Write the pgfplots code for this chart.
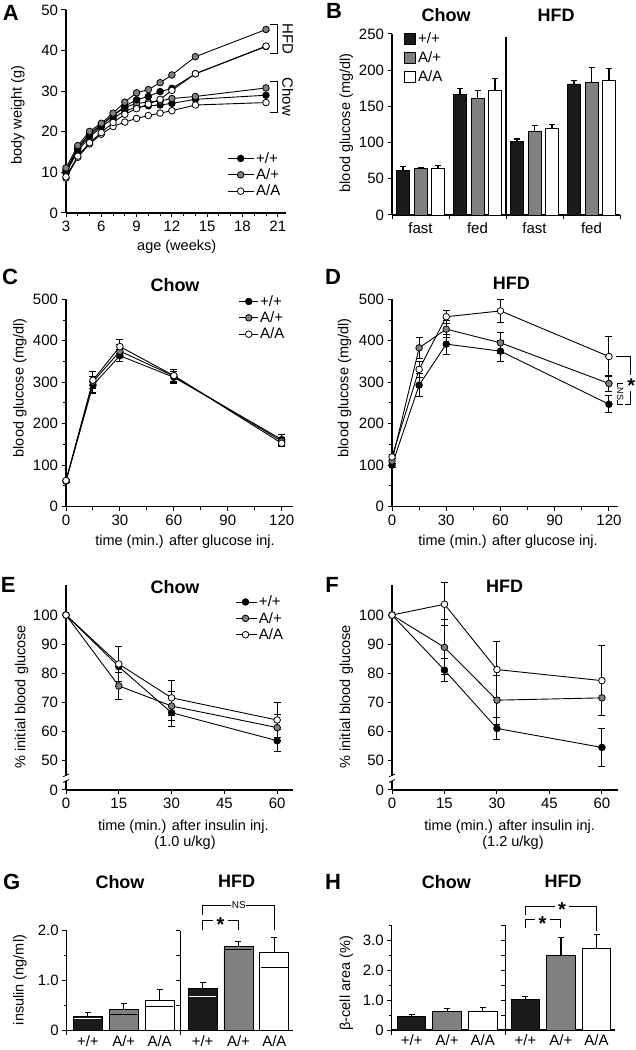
\documentclass[border=0pt]{standalone}
\usepackage{fontspec}
\setmainfont{Liberation Sans}
\usepackage{pgfplots}
\pgfplotsset{compat=1.18}
\definecolor{barblack}{HTML}{1A1A1A}
\definecolor{midgray}{HTML}{808080}
\newcommand{\tickfont}{\fontsize{15}{16}\selectfont}
\newcommand{\labfont}{\fontsize{14.5}{16}\selectfont}
\newcommand{\titfont}{\fontsize{18}{20}\selectfont\bfseries}
\newcommand{\letfont}{\fontsize{22}{24}\selectfont\bfseries}
\pgfplotsset{
 base/.style={
  scale only axis, anchor=south west, clip=false,
  axis x line=bottom, axis y line=left,
  axis line style={line width=1.1pt, -},
  tick align=outside, tick style={line width=1pt, black},
  major tick length=4.5pt, minor tick length=3pt,
  tick label style={font=\tickfont},
  /pgf/number format/assume math mode=true,
  enlargelimits=false,
 },
 ser/.style={line width=0.9pt, black, mark=*, mark size=3.3pt,
   mark options={line width=0.8pt, fill=#1, draw=black, solid}},
 errb/.style={/pgfplots/error bars/y dir=both, /pgfplots/error bars/y explicit,
   /pgfplots/error bars/error bar style={line width=1pt, black, solid},
   /pgfplots/error bars/error mark options={rotate=90, mark size=3.5pt, line width=1pt, black}},
 errp/.style={/pgfplots/error bars/y dir=plus, /pgfplots/error bars/y explicit,
   /pgfplots/error bars/error bar style={line width=1.1pt, black, solid},
   /pgfplots/error bars/error mark options={rotate=90, mark size=3pt, line width=1.1pt, black}},
 linelegend/.style={legend style={draw=none, fill=none, font=\tickfont, inner sep=0pt, row sep=0pt},
   legend cell align=left},
}
\begin{document}
\begin{tikzpicture}
\path[use as bounding box] (0pt,0pt) rectangle (636pt,1050pt);

% ---------------- A ----------------
\begin{axis}[base, at={(66pt,837pt)}, width=220pt, height=203pt,
  xmin=3, xmax=21.7, ymin=0, ymax=50,
  xtick={3,6,...,21}, minor xtick={4,5,7,8,10,11,13,14,16,17,19,20},
  ytick={0,10,...,50},
  linelegend, legend style={at={(0.732,0.31)}, anchor=north west},
  legend image code/.code={\draw[mark repeat=2,mark phase=2] plot coordinates {(0pt,0pt) (13pt,0pt) (26pt,0pt)};},
]
\addplot[ser=black] coordinates {(3,9.8)(4,15.3)(5,18.7)(6,21.2)(7,23.3)(8,25.2)(9,26.0)(10,26.4)(11,26.6)(12,27.0)(14,28.0)(20,29.0)};
\addlegendentry{+/+}
\addplot[ser=midgray] coordinates {(3,10.6)(4,16.0)(5,19.6)(6,21.8)(7,24.0)(8,26.0)(9,27.0)(10,27.3)(11,27.6)(12,28.2)(14,28.7)(20,30.8)};
\addlegendentry{A/+}
\addplot[ser=white] coordinates {(3,8.6)(4,13.7)(5,17.0)(6,19.4)(7,21.3)(8,22.4)(9,23.3)(10,24.0)(11,24.6)(12,25.2)(14,26.6)(20,27.2)};
\addlegendentry{A/A}
\addplot[ser=black, forget plot] coordinates {(3,10.2)(4,15.8)(5,19.2)(6,21.6)(7,24.0)(8,26.3)(9,27.9)(10,28.7)(11,29.9)(12,30.7)(14,34.3)(20,41.0)};
\addplot[ser=midgray, forget plot] coordinates {(3,11.1)(4,16.6)(5,20.1)(6,22.1)(7,24.6)(8,27.3)(9,29.6)(10,30.4)(11,32.1)(12,34.0)(14,38.5)(20,45.2)};
\addplot[ser=white, forget plot] coordinates {(3,8.9)(4,14.0)(5,17.3)(6,19.8)(7,22.3)(8,24.3)(9,25.7)(10,26.8)(11,28.0)(12,30.2)(14,34.3)(20,41.1)};
\draw[line width=1pt] (axis cs:20.38,46.5) -- (axis cs:20.97,46.5) -- (axis cs:20.97,39.2) -- (axis cs:20.38,39.2);
\draw[line width=1pt] (axis cs:20.38,32.5) -- (axis cs:20.97,32.5) -- (axis cs:20.97,24.8) -- (axis cs:20.38,24.8);
\node[rotate=-90, font=\tickfont] at (axis cs:21.85,42.9) {HFD};
\node[rotate=-90, font=\tickfont] at (axis cs:21.85,28.6) {Chow};
\end{axis}

% ---------------- B ----------------
\begin{axis}[base, at={(392pt,835pt)}, width=228pt, height=181pt,
  xmin=0, xmax=4, ymin=0, ymax=250,
  ytick={0,50,...,250}, xtick={0,1,2,3,4}, xticklabels={},
  extra x ticks={0.5,1.5,2.5,3.5}, extra x tick labels={fast,fed,fast,fed},
  extra x tick style={xtick style={draw=none}},
  legend style={draw=none, fill=none, font=\tickfont, inner sep=0pt, row sep=2.5pt, at={(0.053,1.02)}, anchor=north west},
  legend cell align=left,
  legend image code/.code={\draw[#1] (0pt,-5.5pt) rectangle (11pt,5.5pt);},
]
\addlegendimage{fill=barblack, draw=black, line width=0.8pt}
\addlegendentry{+/+}
\addlegendimage{fill=midgray, draw=black, line width=0.8pt}
\addlegendentry{A/+}
\addlegendimage{fill=white, draw=black, line width=0.8pt}
\addlegendentry{A/A}
\addplot[ybar, bar width=13pt, bar shift=0pt, fill=barblack, draw=black, line width=0.8pt, errp, forget plot]
 coordinates {(0.193,62) +- (0,5) (1.193,166) +- (0,9) (2.193,101) +- (0,4) (3.193,181) +- (0,5)};
\addplot[ybar, bar width=13pt, bar shift=0pt, fill=midgray, draw=black, line width=0.8pt, errp, forget plot]
 coordinates {(0.5,64.6) +- (0,1.6) (1.5,160.5) +- (0,11.5) (2.5,116) +- (0,7.6) (3.5,183) +- (0,21)};
\addplot[ybar, bar width=13pt, bar shift=0pt, fill=white, draw=black, line width=0.8pt, errp, forget plot]
 coordinates {(0.807,64) +- (0,4) (1.807,172.5) +- (0,16) (2.807,120) +- (0,5.5) (3.807,185.4) +- (0,17)};
\draw[line width=1.1pt] (axis cs:2,0) -- (axis cs:2,246);
\end{axis}

% ---------------- C ----------------
\begin{axis}[base, at={(66pt,543.3pt)}, width=227pt, height=207.4pt,
  xmin=0, xmax=126.3, ymin=0, ymax=500,
  xtick={0,30,...,120}, minor xtick={15,45,75,105},
  ytick={0,100,...,500}, minor ytick={50,150,...,450},
  linelegend, legend style={at={(0.758,1.03)}, anchor=north west},
  legend image code/.code={\draw[mark repeat=2,mark phase=2] plot coordinates {(0pt,0pt) (10pt,0pt) (19pt,0pt)};},
]
\addplot[ser=black, errb] coordinates {(0,62)+-(0,3) (15,293)+-(0,20) (30,364)+-(0,15) (60,312)+-(0,14) (120,162)+-(0,12)};
\addlegendentry{+/+}
\addplot[ser=midgray, errb] coordinates {(0,62)+-(0,3) (15,301)+-(0,25) (30,375)+-(0,15) (60,315)+-(0,15) (120,158)+-(0,10)};
\addlegendentry{A/+}
\addplot[ser=white, errb] coordinates {(0,63)+-(0,3) (15,305)+-(0,20) (30,386)+-(0,16) (60,316)+-(0,15) (120,153)+-(0,9)};
\addlegendentry{A/A}
\end{axis}

% ---------------- D ----------------
\begin{axis}[base, at={(392pt,543.3pt)}, width=226pt, height=207.4pt,
  xmin=0, xmax=125, ymin=0, ymax=500,
  xtick={0,30,...,120}, minor xtick={15,45,75,105},
  ytick={0,100,...,500}, minor ytick={50,150,...,450},
]
\addplot[ser=black, errb] coordinates {(0,100)+-(0,5) (15,293)+-(0,28) (30,392)+-(0,24) (60,375)+-(0,25) (120,247)+-(0,20)};
\addplot[ser=midgray, errb] coordinates {(0,110)+-(0,5) (15,383)+-(0,26) (30,428)+-(0,20) (60,395)+-(0,25) (120,297)+-(0,20)};
\addplot[ser=white, errb] coordinates {(0,120)+-(0,5) (15,331)+-(0,20) (30,458)+-(0,16) (60,472)+-(0,28) (120,362)+-(0,48)};
\draw[line width=1pt] (axis cs:124,362) -- (axis cs:132,362) -- (axis cs:132,318);
\draw[line width=1pt] (axis cs:132,278) -- (axis cs:132,247) -- (axis cs:128.8,247);
\node[font=\fontsize{20}{20}\selectfont\bfseries] at (axis cs:132.3,292) {*};
\draw[line width=1pt] (axis cs:128,297) -- (axis cs:124.6,297) -- (axis cs:124.6,288);
\draw[line width=1pt] (axis cs:124.6,257) -- (axis cs:124.6,247) -- (axis cs:128,247);
\node[rotate=-90, font=\fontsize{9}{9}\selectfont] at (axis cs:126.2,272) {NS};
\end{axis}

% ---------------- E ----------------
\begin{axis}[base, at={(66pt,260pt)}, width=227pt, height=205pt,
  xmin=0, xmax=64.5, ymin=40, ymax=110.3,
  xtick={0,15,...,60},
  ytick={40,50,...,100}, yticklabels={0,50,60,70,80,90,100},
  linelegend, legend style={at={(0.744,0.958)}, anchor=north west},
  legend image code/.code={\draw[mark repeat=2,mark phase=2] plot coordinates {(0pt,0pt) (10pt,0pt) (21pt,0pt)};},
]
\addplot[ser=black, errb] coordinates {(0,100)+-(0,0) (15,82.3)+-(0,6.8) (30,66.5)+-(0,4.8) (60,56.9)+-(0,3.8)};
\addlegendentry{+/+}
\addplot[ser=midgray, errb] coordinates {(0,100)+-(0,0) (15,75.7)+-(0,4.6) (30,68.8)+-(0,5) (60,61.4)+-(0,4.6)};
\addlegendentry{A/+}
\addplot[ser=white, errb] coordinates {(0,100)+-(0,0) (15,83.2)+-(0,6) (30,71.6)+-(0,6) (60,64)+-(0,6)};
\addlegendentry{A/A}
\fill[white] ([xshift=-3pt]axis cs:0,43.2) rectangle ([xshift=3pt]axis cs:0,44.9);
\draw[line width=0.8pt] ([xshift=-3pt]axis cs:0,42.6) -- ([xshift=3pt]axis cs:0,43.6);
\draw[line width=0.8pt] ([xshift=-3pt]axis cs:0,44.5) -- ([xshift=3pt]axis cs:0,45.5);
\end{axis}

% ---------------- F ----------------
\begin{axis}[base, at={(392pt,260pt)}, width=226pt, height=205pt,
  xmin=0, xmax=64.6, ymin=40, ymax=110.3,
  xtick={0,15,...,60},
  ytick={40,50,...,100}, yticklabels={0,50,60,70,80,90,100},
]
\addplot[ser=black, errb] coordinates {(0,100)+-(0,0) (15,81.1)+-(0,4) (30,61.1)+-(0,3.7) (60,54.6)+-(0,6.4)};
\addplot[ser=midgray, errb] coordinates {(0,100)+-(0,0) (15,88.9)+-(0,9.4) (30,70.8)+-(0,8.5) (60,71.6)+-(0,6)};
\addplot[ser=white, errb] coordinates {(0,100)+-(0,0) (15,103.7)+-(0,7.4) (30,81.3)+-(0,9.7) (60,77.5)+-(0,12)};
\fill[white] ([xshift=-3pt]axis cs:0,43.2) rectangle ([xshift=3pt]axis cs:0,44.9);
\draw[line width=0.8pt] ([xshift=-3pt]axis cs:0,42.6) -- ([xshift=3pt]axis cs:0,43.6);
\draw[line width=0.8pt] ([xshift=-3pt]axis cs:0,44.5) -- ([xshift=3pt]axis cs:0,45.5);
\end{axis}

% ---------------- G ----------------
\begin{axis}[base, at={(66.7pt,19.3pt)}, width=226.3pt, height=100pt,
  xmin=-0.59, xmax=5.72, ymin=0, ymax=2,
  ytick={0,1,2}, yticklabels={0,1.0,2.0}, minor ytick={0.5,1.5},
  xtick={0,1,2,3.2,4.2,5.2}, xticklabels={+/+,A/+,A/A,+/+,A/+,A/A},
  xtick style={draw=none}, xticklabel style={yshift=3pt},
]
\addplot[ybar, bar width=29pt, bar shift=0pt, fill=barblack, draw=black, line width=0.9pt, errp]
 coordinates {(0,0.29)+-(0,0.07) (3.2,0.85)+-(0,0.11)};
\addplot[ybar, bar width=29pt, bar shift=0pt, fill=midgray, draw=black, line width=0.9pt, errp]
 coordinates {(1,0.43)+-(0,0.12) (4.2,1.69)+-(0,0.09)};
\addplot[ybar, bar width=29pt, bar shift=0pt, fill=white, draw=black, line width=0.9pt, errp]
 coordinates {(2,0.61)+-(0,0.22) (5.2,1.57)+-(0,0.30)};
\addplot[only marks, mark=-, mark size=13.5pt, mark options={white, line width=1.3pt}]
 coordinates {(0,0.25) (3.2,0.68)};
\addplot[only marks, mark=-, mark size=13.5pt, mark options={black, line width=1.1pt}]
 coordinates {(1,0.33) (4.2,1.63) (2,0.49) (5.2,1.27)};
\draw[line width=1.1pt] (axis cs:2.58,0) ++(0pt,-4.5pt) -- (axis cs:2.58,2);
\draw[line width=1pt] (axis cs:2.58,0.5) -- ++(-4.5pt,0pt);
\draw[line width=1pt] (axis cs:2.58,1) -- ++(-4.5pt,0pt);
\draw[line width=1pt] (axis cs:2.58,1.5) -- ++(-4.5pt,0pt);
\draw[line width=1pt] (axis cs:2.58,2) -- ++(-4.5pt,0pt);
\draw[line width=1pt] (axis cs:-0.59,0) -- ++(0pt,-4.5pt);
\draw[line width=1pt] (axis cs:3.2,2.01) -- (axis cs:3.2,2.2) -- (axis cs:3.5,2.2);
\draw[line width=1pt] (axis cs:3.9,2.2) -- (axis cs:4.2,2.2) -- (axis cs:4.2,2.01);
\node[font=\fontsize{20}{20}\selectfont\bfseries] at ([yshift=-4pt]axis cs:3.7,2.2) {*};
\draw[line width=1pt] (axis cs:3.2,2.31) -- (axis cs:3.2,2.51) -- (axis cs:4.0,2.51);
\draw[line width=1pt] (axis cs:4.42,2.51) -- (axis cs:5.2,2.51) -- (axis cs:5.2,2.01);
\node[font=\fontsize{10}{10}\selectfont] at (axis cs:4.21,2.51) {NS};
\end{axis}

% ---------------- H ----------------
\begin{axis}[base, at={(391.7pt,20pt)}, width=223.3pt, height=105pt,
  xmin=-0.56, xmax=5.72, ymin=0, ymax=3.5,
  ytick={0,1,2,3}, yticklabels={0,1.0,2.0,3.0}, minor ytick={0.5,1.5,2.5,3.5},
  xtick={0,1,2,3.2,4.2,5.2}, xticklabels={+/+,A/+,A/A,+/+,A/+,A/A},
  xtick style={draw=none}, xticklabel style={yshift=3pt},
]
\addplot[ybar, bar width=28.5pt, bar shift=0pt, fill=barblack, draw=black, line width=0.9pt, errp]
 coordinates {(0,0.44)+-(0,0.08) (3.2,1.02)+-(0,0.09)};
\addplot[ybar, bar width=28.5pt, bar shift=0pt, fill=midgray, draw=black, line width=0.9pt, errp]
 coordinates {(1,0.62)+-(0,0.10) (4.2,2.48)+-(0,0.61)};
\addplot[ybar, bar width=28.5pt, bar shift=0pt, fill=white, draw=black, line width=0.9pt, errp]
 coordinates {(2,0.62)+-(0,0.14) (5.2,2.72)+-(0,0.45)};
\draw[line width=1.1pt] (axis cs:2.63,0) ++(0pt,-4.5pt) -- (axis cs:2.63,3.5);
\draw[line width=1pt] (axis cs:2.63,0.5) -- ++(-4.5pt,0pt);
\draw[line width=1pt] (axis cs:2.63,1) -- ++(-4.5pt,0pt);
\draw[line width=1pt] (axis cs:2.63,1.5) -- ++(-4.5pt,0pt);
\draw[line width=1pt] (axis cs:2.63,2) -- ++(-4.5pt,0pt);
\draw[line width=1pt] (axis cs:2.63,2.5) -- ++(-4.5pt,0pt);
\draw[line width=1pt] (axis cs:2.63,3) -- ++(-4.5pt,0pt);
\draw[line width=1pt] (axis cs:2.63,3.5) -- ++(-4.5pt,0pt);
\draw[line width=1pt] (axis cs:-0.56,0) -- ++(0pt,-4.5pt);
\draw[line width=1pt] (axis cs:3.2,3.39) -- (axis cs:3.2,3.69) -- (axis cs:3.48,3.69);
\draw[line width=1pt] (axis cs:3.88,3.69) -- (axis cs:4.2,3.69) -- (axis cs:4.2,3.39);
\node[font=\fontsize{20}{20}\selectfont\bfseries] at ([yshift=-4pt]axis cs:3.68,3.69) {*};
\draw[line width=1pt] (axis cs:3.2,3.83) -- (axis cs:3.2,4.13) -- (axis cs:4.03,4.13);
\draw[line width=1pt] (axis cs:4.43,4.13) -- (axis cs:5.2,4.13) -- (axis cs:5.2,3.31);
\node[font=\fontsize{20}{20}\selectfont\bfseries] at ([yshift=-4pt]axis cs:4.23,4.13) {*};
\end{axis}

% ---------------- labels ----------------
\node[rotate=90, font=\labfont] at (18pt,935pt) {body weight (g)};
\node[font=\labfont] at (176.7pt,803pt) {age (weeks)};
\node[rotate=90, font=\labfont] at (346.3pt,927pt) {blood glucose (mg/dl)};
\node[rotate=90, font=\labfont] at (20pt,662pt) {blood glucose (mg/dl)};
\node[font=\labfont] at (185pt,508.3pt) {time (min.) after glucose inj.};
\node[rotate=90, font=\labfont] at (344.7pt,662pt) {blood glucose (mg/dl)};
\node[font=\labfont] at (508pt,508.3pt) {time (min.) after glucose inj.};
\node[rotate=90, font=\labfont] at (21.7pt,353.3pt) {\% initial blood glucose};
\node[font=\labfont] at (183.3pt,223.5pt) {time (min.) after insulin inj.};
\node[font=\labfont] at (185pt,207.5pt) {(1.0 u/kg)};
\node[rotate=90, font=\labfont] at (346.3pt,353.3pt) {\% initial blood glucose};
\node[font=\labfont] at (509.7pt,223.5pt) {time (min.) after insulin inj.};
\node[font=\labfont] at (513pt,207.5pt) {(1.2 u/kg)};
\node[rotate=90, font=\labfont] at (20pt,70pt) {insulin (ng/ml)};
\node[rotate=90, font=\labfont] at (346.3pt,66.7pt) {β-cell area (\%)};
% titles
\node[font=\titfont] at (446pt,1035pt) {Chow};
\node[font=\titfont] at (556pt,1035pt) {HFD};
\node[font=\titfont] at (175pt,765pt) {Chow};
\node[font=\titfont] at (511.3pt,767pt) {HFD};
\node[font=\titfont] at (175pt,463.3pt) {Chow};
\node[font=\titfont] at (504.7pt,463.3pt) {HFD};
\node[font=\titfont] at (120pt,168.3pt) {Chow};
\node[font=\titfont] at (236.7pt,168.3pt) {HFD};
\node[font=\titfont] at (446.3pt,168.3pt) {Chow};
\node[font=\titfont] at (563pt,168.3pt) {HFD};
% panel letters
\node[font=\letfont] at (10.7pt,1037.3pt) {A};
\node[font=\letfont] at (334pt,1039.3pt) {B};
\node[font=\letfont] at (10pt,773.3pt) {C};
\node[font=\letfont] at (333pt,773.3pt) {D};
\node[font=\letfont] at (8.3pt,465pt) {E};
\node[font=\letfont] at (332pt,465pt) {F};
\node[font=\letfont] at (11.7pt,168.3pt) {G};
\node[font=\letfont] at (333pt,168.3pt) {H};
\end{tikzpicture}
\end{document}
